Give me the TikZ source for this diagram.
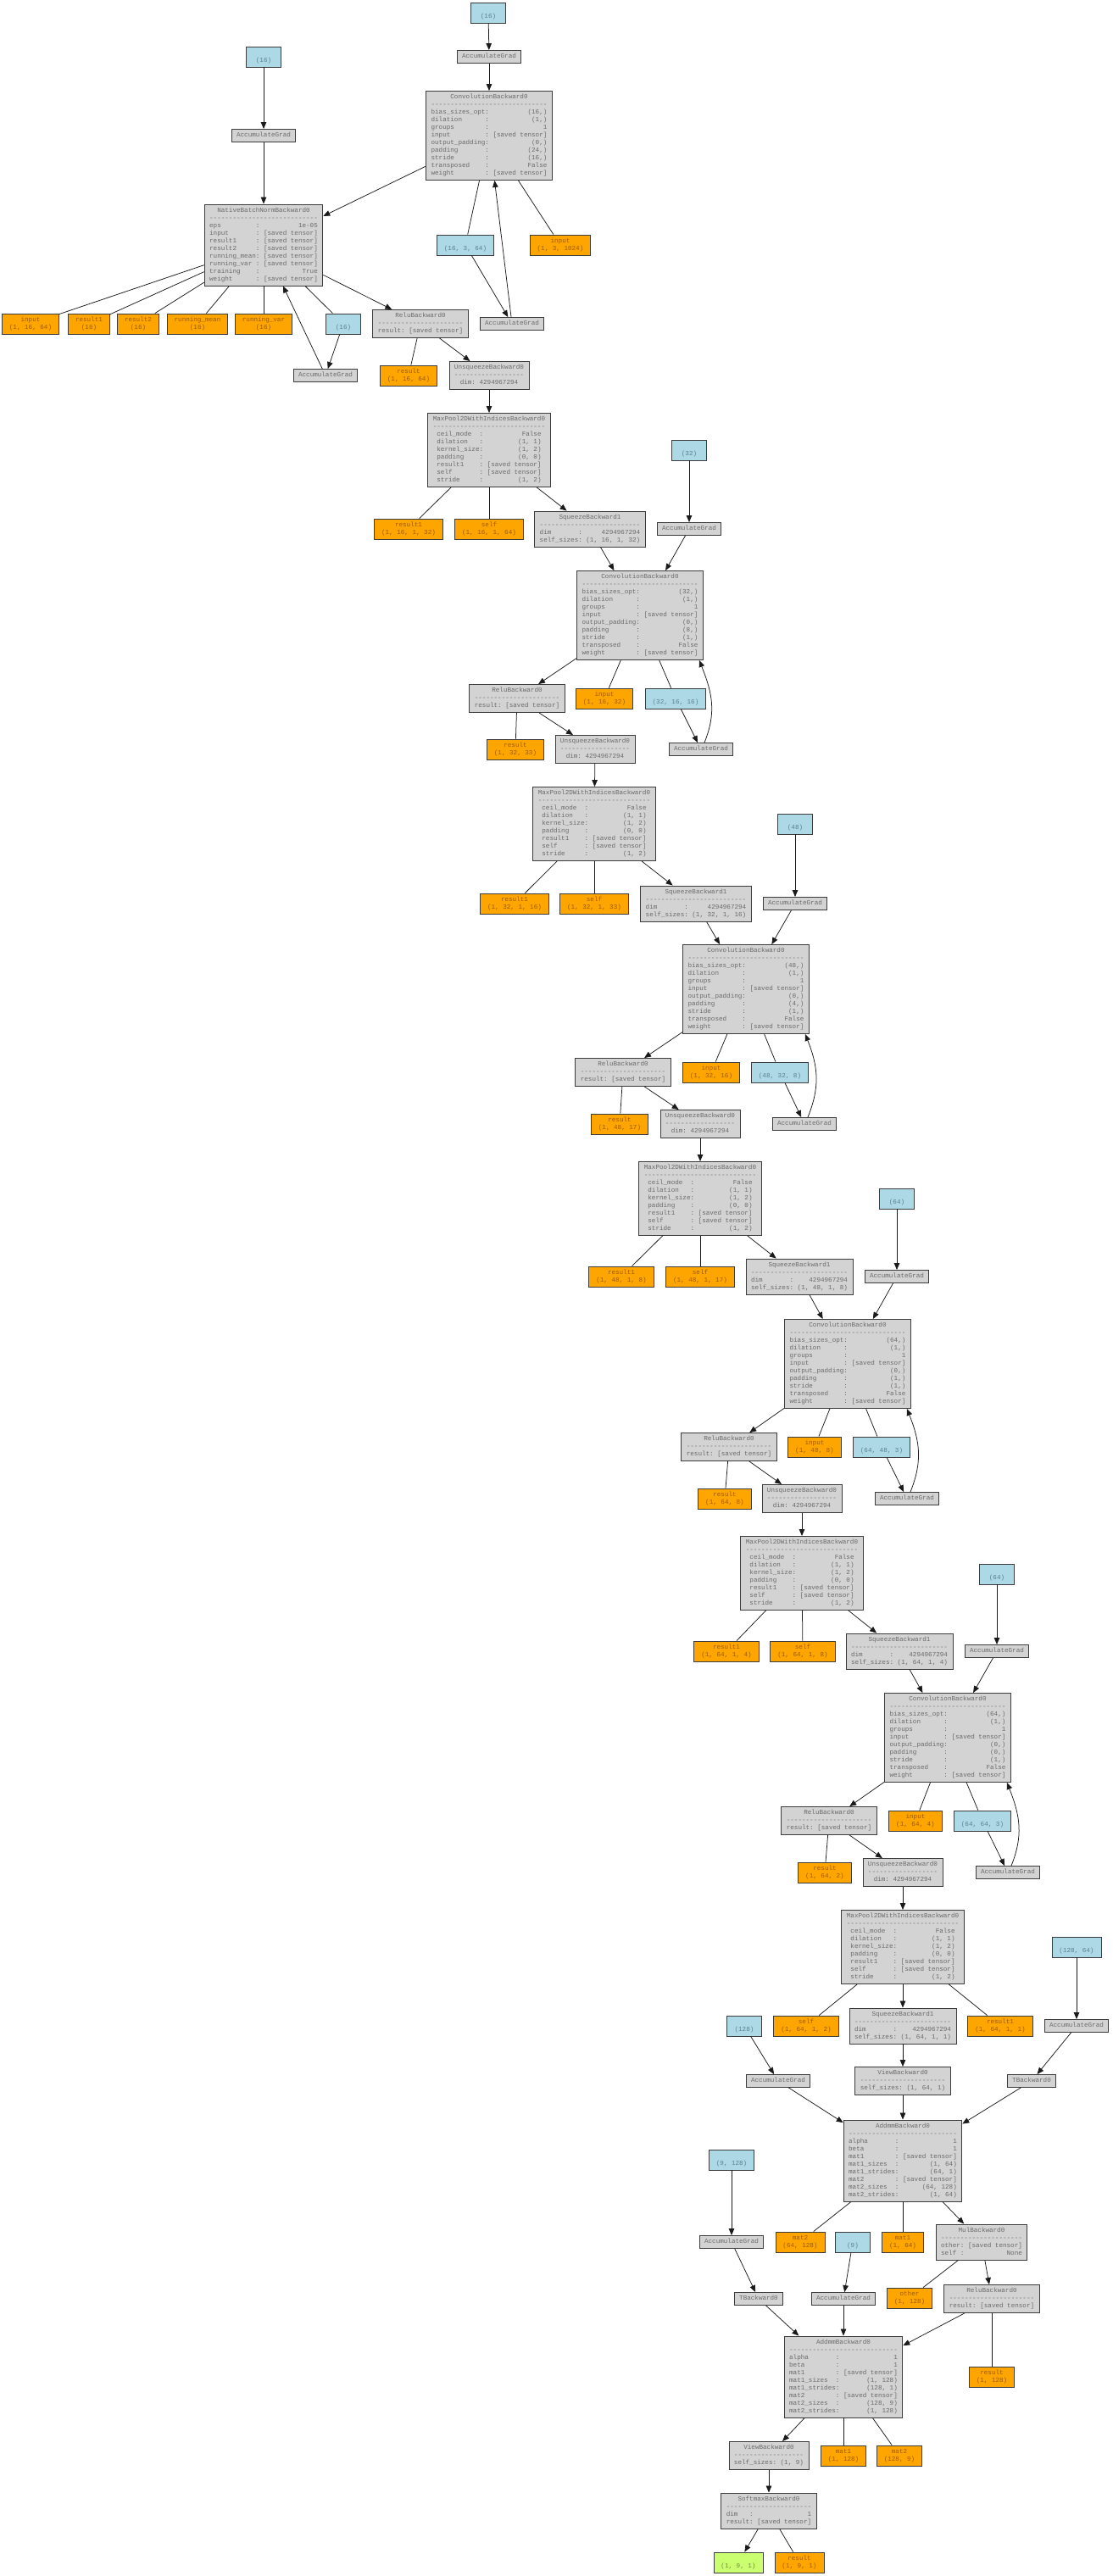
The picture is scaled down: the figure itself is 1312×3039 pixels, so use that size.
\documentclass[tikz,border=0pt]{standalone}
\usepackage{fontspec}
\setmonofont{Liberation Mono}
\usetikzlibrary{arrows.meta}
\definecolor{gfill}{HTML}{D3D3D3}
\definecolor{ofill}{HTML}{FFA500}
\definecolor{bfill}{HTML}{ADD8E6}
\definecolor{grfill}{HTML}{CAFF70}
\definecolor{gtext}{HTML}{6A6A6A}
\definecolor{otext}{HTML}{9A5A00}
\definecolor{btext}{HTML}{5A808C}
\definecolor{grtext}{HTML}{6A8840}
\definecolor{edgec}{HTML}{1A1A1A}
\definecolor{bordc}{HTML}{3C3C3C}
\newcommand\dashes[1]{\ifnum#1>0 -\expandafter\dashes\expandafter{\the\numexpr#1-1\relax}\fi}
\newcommand\oneline[1]{\begin{tabular}{@{}c@{}}#1\end{tabular}}
\newcommand\twoline[2]{\begin{tabular}{@{}c@{}}#1\\#2\end{tabular}}
\newcommand\fnode[3]{\begin{tabular}{@{}c@{}}#1\\\dashes{#2}\\\begin{tabular}[t]{@{}l@{:~}r@{}}#3\end{tabular}\end{tabular}}
\newcommand\convtext[3]{\fnode{ConvolutionBackward0}{30}{bias\_sizes\_opt&(#1,)\\dilation&(1,)\\groups&1\\input&[saved tensor]\\output\_padding&(0,)\\padding&(#2,)\\stride&(#3,)\\transposed&False\\weight&[saved tensor]}}
\newcommand\mptext{\fnode{MaxPool2DWithIndicesBackward0}{29}{ceil\_mode&False\\dilation&(1, 1)\\kernel\_size&(1, 2)\\padding&(0, 0)\\result1&[saved tensor]\\self&[saved tensor]\\stride&(1, 2)}}
\newcommand\sqtext[2]{\fnode{SqueezeBackward1}{#1}{dim&4294967294\\self\_sizes&#2}}
\newcommand\unsqtext{\fnode{UnsqueezeBackward0}{18}{dim&4294967294}}
\newcommand\relutext{\fnode{ReluBackward0}{22}{result&[saved tensor]}}
\tikzset{
  base/.style={rectangle, draw=bordc, line width=0.9pt, font=\ttfamily\fontsize{7.6}{9}\selectfont, inner ysep=3pt},
  gbox/.style={base, fill=gfill, text=gtext, inner xsep=6pt},
  obox/.style={base, fill=ofill, text=otext, inner xsep=8.5pt, minimum width=41pt},
  bbox/.style={base, fill=bfill, text=btext, inner xsep=8.5pt, minimum width=41pt},
  grbox/.style={base, fill=grfill, text=grtext, inner xsep=8.5pt, minimum width=41pt},
  arr/.style={draw=edgec, line width=0.75pt, -{Triangle[length=8pt,width=6.5pt]}},
  ln/.style={draw=edgec, line width=0.75pt},
}
\begin{document}
\begin{tikzpicture}[x=1pt,y=-1pt]
\useasboundingbox (0,0) rectangle (1312,3039);
\fill[white] (0,0) rectangle (1312,3039);

% ---------- top: conv1 + batchnorm ----------
\node[bbox] (lbA) at (576,15) {\twoline{}{(16)}};
\node[gbox] (agA) at (577,67) {\oneline{AccumulateGrad}};
\node[gbox] (conv1) at (577,160) {\convtext{16}{24}{16}};
\node[bbox] (lbB) at (311,67) {\twoline{}{(16)}};
\node[gbox] (agB) at (311,160) {\oneline{AccumulateGrad}};
\node[gbox] (bn) at (311,289) {\fnode{NativeBatchNormBackward0}{28}{eps&1e-05\\input&[saved tensor]\\result1&[saved tensor]\\result2&[saved tensor]\\running\_mean&[saved tensor]\\running\_var&[saved tensor]\\training&True\\weight&[saved tensor]}};
\node[obox] (obnin) at (36,382) {\twoline{input}{(1, 16, 64)}};
\node[obox] (obnr1) at (105,382) {\twoline{result1}{(16)}};
\node[obox] (obnr2) at (163,382) {\twoline{result2}{(16)}};
\node[obox] (obnrm) at (233,382) {\twoline{running\_mean}{(16)}};
\node[obox] (obnrv) at (311,382) {\twoline{running\_var}{(16)}};
\node[bbox] (lbC) at (405,382) {\twoline{}{(16)}};
\node[gbox] (agC) at (384,443) {\oneline{AccumulateGrad}};
\node[bbox] (lbw1) at (549,289) {\twoline{}{(16, 3, 64)}};
\node[obox] (oin1) at (661,289) {\twoline{input}{(1, 3, 1024)}};
\node[gbox] (agw1) at (604,382) {\oneline{AccumulateGrad}};
\node[gbox] (relu1) at (496,382) {\relutext};
\node[obox] (orl1) at (482,443) {\twoline{result}{(1, 16, 64)}};
\node[gbox] (unsq1) at (577,443) {\unsqtext};
\node[gbox] (mp1) at (577,531) {\mptext};
\node[obox] (omr1) at (482,624) {\twoline{result1}{(1, 16, 1, 32)}};
\node[obox] (oms1) at (577,624) {\twoline{self}{(1, 16, 1, 64)}};
\node[gbox] (sq1) at (696,624) {\sqtext{26}{(1, 16, 1, 32)}};

% ---------- block 2 ----------
\node[bbox] (lbb2) at (813,531) {\twoline{}{(32)}};
\node[gbox] (agb2) at (813,624) {\oneline{AccumulateGrad}};
\node[gbox] (conv2) at (755,726) {\convtext{32}{8}{1}};
\node[gbox] (relu2) at (610,824) {\relutext};
\node[obox] (oin2) at (713,824) {\twoline{input}{(1, 16, 32)}};
\node[bbox] (lbw2) at (797,824) {\twoline{}{(32, 16, 16)}};
\node[gbox] (agw2) at (827,884) {\oneline{AccumulateGrad}};
\node[obox] (orl2) at (608,884) {\twoline{result}{(1, 32, 33)}};
\node[gbox] (unsq2) at (702,884) {\unsqtext};
\node[gbox] (mp2) at (701,972) {\mptext};
\node[obox] (omr2) at (607,1066) {\twoline{result1}{(1, 32, 1, 16)}};
\node[obox] (oms2) at (701,1066) {\twoline{self}{(1, 32, 1, 33)}};
\node[gbox] (sq2) at (821,1066) {\sqtext{26}{(1, 32, 1, 16)}};

% ---------- block 3 ----------
\node[bbox] (lbb3) at (938,972) {\twoline{}{(48)}};
\node[gbox] (agb3) at (938,1066) {\oneline{AccumulateGrad}};
\node[gbox] (conv3) at (880,1167) {\convtext{48}{4}{1}};
\node[gbox] (relu3) at (735,1265) {\relutext};
\node[obox] (oin3) at (839,1265) {\twoline{input}{(1, 32, 16)}};
\node[bbox] (lbw3) at (920,1265) {\twoline{}{(48, 32, 8)}};
\node[gbox] (agw3) at (949,1326) {\oneline{AccumulateGrad}};
\node[obox] (orl3) at (731,1326) {\twoline{result}{(1, 48, 17)}};
\node[gbox] (unsq3) at (826,1326) {\unsqtext};
\node[gbox] (mp3) at (826,1414) {\mptext};
\node[obox] (omr3) at (733,1506) {\twoline{result1}{(1, 48, 1, 8)}};
\node[obox] (oms3) at (826,1506) {\twoline{self}{(1, 48, 1, 17)}};
\node[gbox] (sq3) at (943,1506) {\sqtext{25}{(1, 48, 1, 8)}};

% ---------- block 4 ----------
\node[bbox] (lbb4) at (1058,1414) {\twoline{}{(64)}};
\node[gbox] (agb4) at (1058,1506) {\oneline{AccumulateGrad}};
\node[gbox] (conv4) at (1000,1609) {\convtext{64}{1}{1}};
\node[gbox] (relu4) at (860,1707) {\relutext};
\node[obox] (oin4) at (961,1707) {\twoline{input}{(1, 48, 8)}};
\node[bbox] (lbw4) at (1040,1707) {\twoline{}{(64, 48, 3)}};
\node[gbox] (agw4) at (1070,1768) {\oneline{AccumulateGrad}};
\node[obox] (orl4) at (855,1768) {\twoline{result}{(1, 64, 8)}};
\node[gbox] (unsq4) at (946,1768) {\unsqtext};
\node[gbox] (mp4) at (946,1856) {\mptext};
\node[obox] (omr4) at (857,1948) {\twoline{result1}{(1, 64, 1, 4)}};
\node[obox] (oms4) at (947,1948) {\twoline{self}{(1, 64, 1, 8)}};
\node[gbox] (sq4) at (1061,1948) {\sqtext{25}{(1, 64, 1, 4)}};

% ---------- block 5 ----------
\node[bbox] (lbb5) at (1176,1857) {\twoline{}{(64)}};
\node[gbox] (agb5) at (1176,1948) {\oneline{AccumulateGrad}};
\node[gbox] (conv5) at (1118,2050) {\convtext{64}{0}{1}};
\node[gbox] (relu5) at (978,2148) {\relutext};
\node[obox] (oin5) at (1080,2148) {\twoline{input}{(1, 64, 4)}};
\node[bbox] (lbw5) at (1159,2148) {\twoline{}{(64, 64, 3)}};
\node[gbox] (agw5) at (1189,2209) {\oneline{AccumulateGrad}};
\node[obox] (orl5) at (973,2209) {\twoline{result}{(1, 64, 2)}};
\node[gbox] (unsq5) at (1065,2209) {\unsqtext};
\node[gbox] (mp5) at (1065,2297) {\mptext};
\node[bbox] (lb128) at (878,2390) {\twoline{}{(128)}};
\node[obox] (oms5) at (951,2390) {\twoline{self}{(1, 64, 1, 2)}};
\node[gbox] (sq5) at (1065,2390) {\sqtext{25}{(1, 64, 1, 1)}};
\node[obox] (omr5) at (1180,2390) {\twoline{result1}{(1, 64, 1, 1)}};
\node[bbox] (lb12864) at (1270,2297) {\twoline{}{(128, 64)}};
\node[gbox] (ag12864) at (1270,2390) {\oneline{AccumulateGrad}};

% ---------- linear layers ----------
\node[gbox] (ag128) at (918,2455) {\oneline{AccumulateGrad}};
\node[gbox] (view1) at (1065,2455) {\fnode{ViewBackward0}{22}{self\_sizes&(1, 64, 1)}};
\node[gbox] (t1) at (1217,2455) {\oneline{TBackward0}};
\node[gbox] (addmm1) at (1065,2549) {\fnode{AddmmBackward0}{28}{alpha&1\\beta&1\\mat1&[saved tensor]\\mat1\_sizes&(1, 64)\\mat1\_strides&(64, 1)\\mat2&[saved tensor]\\mat2\_sizes&(64, 128)\\mat2\_strides&(1, 64)}};
\node[bbox] (lb9128) at (863,2548) {\twoline{}{(9, 128)}};
\node[gbox] (ag9128) at (863,2645) {\oneline{AccumulateGrad}};
\node[obox] (oa1m2) at (944,2645) {\twoline{mat2}{(64, 128)}};
\node[bbox] (lb9) at (1006,2645) {\twoline{}{(9)}};
\node[obox] (oa1m1) at (1065,2645) {\twoline{mat1}{(1, 64)}};
\node[gbox] (mul) at (1158,2645) {\fnode{MulBackward0}{21}{other&[saved tensor]\\self&None}};
\node[gbox] (t2) at (895,2712) {\oneline{TBackward0}};
\node[gbox] (ag9) at (995,2712) {\oneline{AccumulateGrad}};
\node[obox] (oother) at (1073,2711) {\twoline{other}{(1, 128)}};
\node[gbox] (relu6) at (1170,2712) {\relutext};
\node[gbox] (addmm2) at (995,2804) {\fnode{AddmmBackward0}{28}{alpha&1\\beta&1\\mat1&[saved tensor]\\mat1\_sizes&(1, 128)\\mat1\_strides&(128, 1)\\mat2&[saved tensor]\\mat2\_sizes&(128, 9)\\mat2\_strides&(1, 128)}};
\node[obox] (orl6) at (1170,2804) {\twoline{result}{(1, 128)}};
\node[gbox] (view2) at (907,2897) {\fnode{ViewBackward0}{18}{self\_sizes&(1, 9)}};
\node[obox] (oa2m1) at (995,2897) {\twoline{mat1}{(1, 128)}};
\node[obox] (oa2m2) at (1061,2897) {\twoline{mat2}{(128, 9)}};
\node[gbox] (softmax) at (907,2962) {\fnode{SoftmaxBackward0}{22}{dim&1\\result&[saved tensor]}};
\node[grbox] (green) at (871,3023) {\twoline{}{(1, 9, 1)}};
\node[obox] (osm) at (943,3023) {\twoline{result}{(1, 9, 1)}};

% ---------- edges: top ----------
\draw[arr] (lbA) -- (agA);
\draw[arr] (agA) -- (conv1);
\draw[ln] (conv1) -- (lbw1);
\draw[arr] (lbw1) -- (agw1);
\draw[arr] (agw1) -- (conv1);
\draw[ln] (conv1) -- (oin1);
\draw[arr] (conv1) -- (bn);
\draw[arr] (lbB) -- (agB);
\draw[arr] (agB) -- (bn);
\draw[ln] (bn) -- (obnin);
\draw[ln] (bn) -- (obnr1);
\draw[ln] (bn) -- (obnr2);
\draw[ln] (bn) -- (obnrm);
\draw[ln] (bn) -- (obnrv);
\draw[ln] (bn) -- (lbC);
\draw[arr] (lbC) -- (agC);
\draw[arr] (agC) -- (bn);
\draw[arr] (bn) -- (relu1);
\draw[ln] (relu1) -- (orl1);
\draw[arr] (relu1) -- (unsq1);
\draw[arr] (unsq1) -- (mp1);
\draw[ln] (mp1) -- (omr1);
\draw[ln] (mp1) -- (oms1);
\draw[arr] (mp1) -- (sq1);

% ---------- edges: blocks 2-5 ----------
\draw[arr] (lbb2) -- (agb2); \draw[arr] (agb2) -- (conv2); \draw[arr] (sq1) -- (conv2);
\draw[arr] (conv2) -- (relu2); \draw[ln] (conv2) -- (oin2); \draw[ln] (conv2) -- (lbw2);
\draw[arr] (lbw2) -- (agw2);
\draw[arr] ([xshift=4pt]agw2.north) .. controls +(14,-35) and +(16,40) .. ([xshift=-5pt]conv2.south east);
\draw[ln] (relu2) -- (orl2); \draw[arr] (relu2) -- (unsq2); \draw[arr] (unsq2) -- (mp2);
\draw[ln] (mp2) -- (omr2); \draw[ln] (mp2) -- (oms2); \draw[arr] (mp2) -- (sq2);

\draw[arr] (lbb3) -- (agb3); \draw[arr] (agb3) -- (conv3); \draw[arr] (sq2) -- (conv3);
\draw[arr] (conv3) -- (relu3); \draw[ln] (conv3) -- (oin3); \draw[ln] (conv3) -- (lbw3);
\draw[arr] (lbw3) -- (agw3);
\draw[arr] ([xshift=4pt]agw3.north) .. controls +(14,-35) and +(16,40) .. ([xshift=-5pt]conv3.south east);
\draw[ln] (relu3) -- (orl3); \draw[arr] (relu3) -- (unsq3); \draw[arr] (unsq3) -- (mp3);
\draw[ln] (mp3) -- (omr3); \draw[ln] (mp3) -- (oms3); \draw[arr] (mp3) -- (sq3);

\draw[arr] (lbb4) -- (agb4); \draw[arr] (agb4) -- (conv4); \draw[arr] (sq3) -- (conv4);
\draw[arr] (conv4) -- (relu4); \draw[ln] (conv4) -- (oin4); \draw[ln] (conv4) -- (lbw4);
\draw[arr] (lbw4) -- (agw4);
\draw[arr] ([xshift=4pt]agw4.north) .. controls +(14,-35) and +(16,40) .. ([xshift=-5pt]conv4.south east);
\draw[ln] (relu4) -- (orl4); \draw[arr] (relu4) -- (unsq4); \draw[arr] (unsq4) -- (mp4);
\draw[ln] (mp4) -- (omr4); \draw[ln] (mp4) -- (oms4); \draw[arr] (mp4) -- (sq4);

\draw[arr] (lbb5) -- (agb5); \draw[arr] (agb5) -- (conv5); \draw[arr] (sq4) -- (conv5);
\draw[arr] (conv5) -- (relu5); \draw[ln] (conv5) -- (oin5); \draw[ln] (conv5) -- (lbw5);
\draw[arr] (lbw5) -- (agw5);
\draw[arr] ([xshift=4pt]agw5.north) .. controls +(14,-35) and +(16,40) .. ([xshift=-5pt]conv5.south east);
\draw[ln] (relu5) -- (orl5); \draw[arr] (relu5) -- (unsq5); \draw[arr] (unsq5) -- (mp5);
\draw[ln] (mp5) -- (oms5); \draw[ln] (mp5) -- (omr5); \draw[arr] (mp5) -- (sq5);

% ---------- edges: linear layers ----------
\draw[arr] (sq5) -- (view1);
\draw[arr] (view1) -- (addmm1);
\draw[arr] (lb128) -- (ag128);
\draw[arr] (ag128) -- (addmm1);
\draw[arr] (lb12864) -- (ag12864);
\draw[arr] (ag12864) -- (t1);
\draw[arr] (t1) -- (addmm1);
\draw[ln] (addmm1) -- (oa1m2);
\draw[ln] (addmm1) -- (oa1m1);
\draw[arr] (addmm1) -- (mul);
\draw[ln] (mul) -- (oother);
\draw[arr] (mul) -- (relu6);
\draw[arr] (lb9128) -- (ag9128);
\draw[arr] (ag9128) -- (t2);
\draw[arr] (t2) -- (addmm2);
\draw[arr] (lb9) -- (ag9);
\draw[arr] (ag9) -- (addmm2);
\draw[arr] (relu6) -- (addmm2);
\draw[ln] (relu6) -- (orl6);
\draw[arr] (addmm2) -- (view2);
\draw[ln] (addmm2) -- (oa2m1);
\draw[ln] (addmm2) -- (oa2m2);
\draw[arr] (view2) -- (softmax);
\draw[arr] (softmax) -- (green);
\draw[ln] (softmax) -- (osm);
\end{tikzpicture}
\end{document}
